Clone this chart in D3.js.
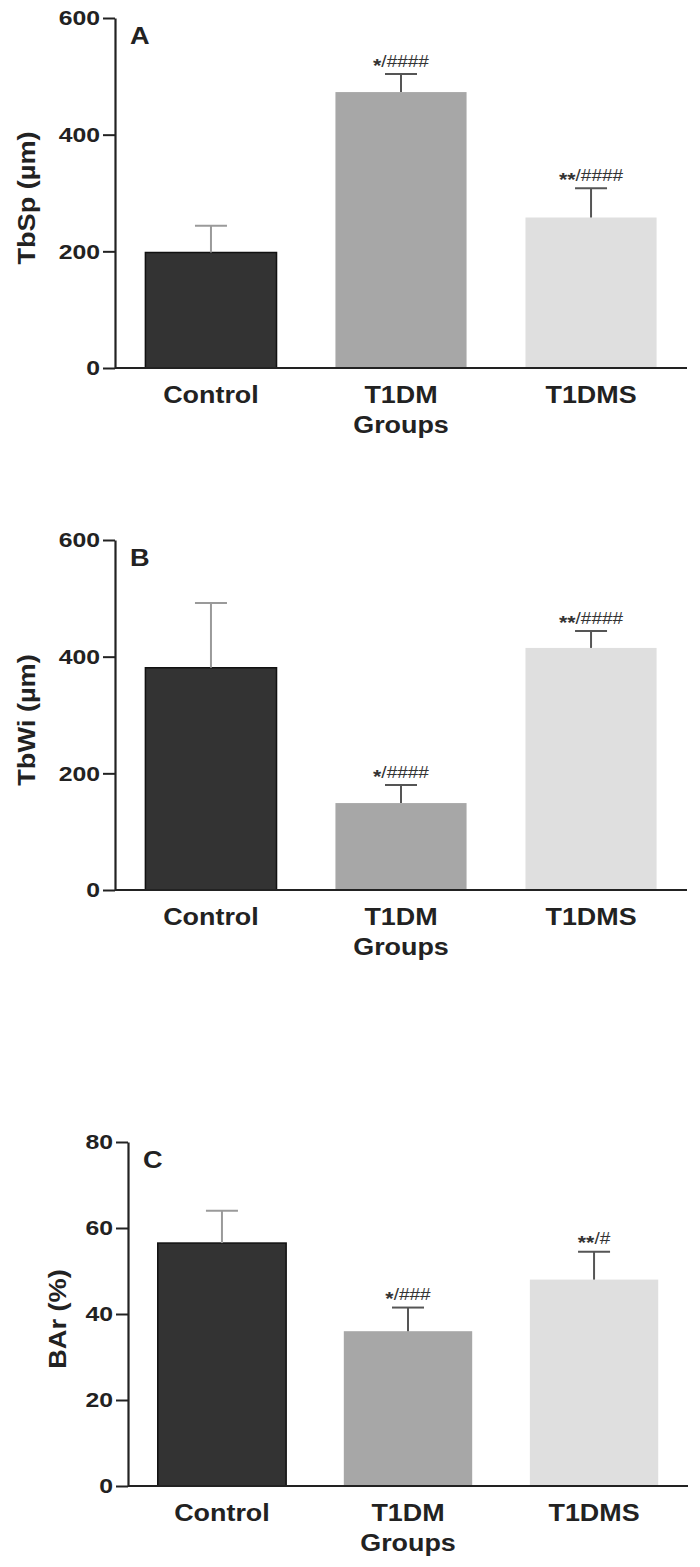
<!DOCTYPE html>
<html>
<head>
<meta charset="utf-8">
<script src="https://cdn.jsdelivr.net/npm/d3@7"></script>
<style>
  body { margin: 0; background: #fff; }
  svg { display: block; font-family: "Liberation Sans", Arial, sans-serif; }
</style>
</head>
<body>
<div id="chart"></div>
<script>
// groups shared by all three panels
const groups = ["Control", "T1DM", "T1DMS"];
const barColors = ["#333333", "#a7a7a7", "#dfdfdf"];
const errColors = ["#9a9a9a", "#555555", "#555555"];

// panel A: trabecular separation
const tbspMeans = [198, 473, 258];
const tbspErrors = [46, 31, 50];
const tbspMarks = ["", "*/####", "**/####"];
const tbspTicks = [0, 200, 400, 600];

// panel B: trabecular width
const tbwiMeans = [381, 149, 415];
const tbwiErrors = [111, 31, 29];
const tbwiMarks = ["", "*/####", "**/####"];
const tbwiTicks = [0, 200, 400, 600];

// panel C: bone area
const barMeans = [56.5, 36, 48];
const barErrors = [7.5, 5.5, 6.5];
const barMarks = ["", "*/###", "**/#"];
const barTicks = [0, 20, 40, 60, 80];

const W = 700, H = 1567;
const svg = d3.select("#chart").append("svg")
  .attr("width", W).attr("height", H);

const panels = [
  { letter: "A", title: "TbSp (\u00b5m)", means: tbspMeans, errors: tbspErrors, marks: tbspMarks,
    ticks: tbspTicks, left: 115, right: 687, top: 18, bottom: 368, titleX: 27 },
  { letter: "B", title: "TbWi (\u00b5m)", means: tbwiMeans, errors: tbwiErrors, marks: tbwiMarks,
    ticks: tbwiTicks, left: 115, right: 687, top: 540, bottom: 890, titleX: 27 },
  { letter: "C", title: "BAr (%)", means: barMeans, errors: barErrors, marks: barMarks,
    ticks: barTicks, left: 128, right: 688, top: 1142, bottom: 1486, titleX: 58 }
];

const SX = 1.18; // the figure's lettering is wider than Arial

panels.forEach(p => drawPanel(p));

function drawPanel(p) {
  const g = svg.append("g");
  const x = d3.scaleBand()
    .domain(groups)
    .range([p.left, p.right])
    .paddingInner(0.31)
    .paddingOuter(0.16);
  const y = d3.scaleLinear()
    .domain([0, d3.max(p.ticks)])
    .range([p.bottom, p.top]);

  const rows = groups.map((name, i) => ({
    name, mean: p.means[i], err: p.errors[i], mark: p.marks[i], i
  }));

  // bars
  g.selectAll("rect.bar")
    .data(rows)
    .join("rect")
      .attr("class", "bar")
      .attr("x", d => x(d.name))
      .attr("y", d => y(d.mean))
      .attr("width", x.bandwidth())
      .attr("height", d => y(0) - y(d.mean))
      .attr("fill", d => barColors[d.i])
      .attr("stroke", d => d.i === 0 ? "#111" : "none")
      .attr("stroke-width", 1.5);

  // error bars (upper only)
  const cx = d => x(d.name) + x.bandwidth() / 2;
  const eb = g.selectAll("g.err")
    .data(rows)
    .join("g")
      .attr("class", "err")
      .attr("stroke", d => errColors[d.i])
      .attr("stroke-width", 2);
  eb.append("line")
    .attr("x1", cx).attr("x2", cx)
    .attr("y1", d => y(d.mean)).attr("y2", d => y(d.mean + d.err));
  eb.append("line")
    .attr("x1", d => cx(d) - 16).attr("x2", d => cx(d) + 16)
    .attr("y1", d => y(d.mean + d.err)).attr("y2", d => y(d.mean + d.err));

  // significance marks
  const marks = g.selectAll("text.mark")
    .data(rows.filter(d => d.mark))
    .join("text")
      .attr("class", "mark")
      .attr("transform", d => `translate(${cx(d)},${y(d.mean + d.err) - 8}) scale(1.12,1)`)
      .attr("text-anchor", "middle")
      .attr("font-size", 17)
      .attr("fill", "#333");
  marks.each(function (d) {
    const parts = d.mark.split("/");
    const t = d3.select(this);
    t.append("tspan").attr("dy", "0.3em").attr("font-size", 19).attr("font-weight", "bold").text(parts[0]);
    t.append("tspan").attr("dy", "-0.3em").text("/" + parts[1]);
  });

  // y axis
  g.append("g")
    .attr("transform", `translate(${p.left},0)`)
    .call(d3.axisLeft(y).tickValues(p.ticks).tickSize(12).tickPadding(3).tickSizeOuter(0))
    .call(a => a.select(".domain").attr("stroke", "#222").attr("stroke-width", 2.2))
    .call(a => a.selectAll(".tick line").attr("stroke", "#222").attr("stroke-width", 2))
    .call(a => a.selectAll(".tick text")
      .attr("font-family", "Liberation Sans, Arial, sans-serif")
      .attr("font-size", 21)
      .attr("font-weight", "bold")
      .attr("fill", "#222")
      .attr("x", -15 / SX)
      .attr("transform", `scale(${SX},1)`));

  // x axis line
  g.append("g")
    .attr("transform", `translate(0,${p.bottom})`)
    .call(d3.axisBottom(x).tickSize(0).tickSizeOuter(0).tickFormat(""))
    .call(a => a.select(".domain")
      .attr("stroke", "#222").attr("stroke-width", 2.2)
      .attr("d", `M${p.left},0H${p.right}`));

  // category labels
  g.selectAll("text.cat")
    .data(groups)
    .join("text")
      .attr("class", "cat")
      .attr("transform", d => `translate(${x(d) + x.bandwidth() / 2},${p.bottom + 35}) scale(1.12,1)`)
      .attr("text-anchor", "middle")
      .attr("font-size", 24)
      .attr("font-weight", "bold")
      .attr("fill", "#222")
      .text(d => d);

  g.append("text")
    .attr("transform", `translate(${x("T1DM") + x.bandwidth() / 2},${p.bottom + 65}) scale(1.12,1)`)
    .attr("text-anchor", "middle")
    .attr("font-size", 24)
    .attr("font-weight", "bold")
    .attr("fill", "#222")
    .text("Groups");

  // y title
  g.append("text")
    .attr("transform", `translate(${p.titleX + 8},${(p.top + p.bottom) / 2 + 5}) rotate(-90) scale(${SX},1)`)
    .attr("text-anchor", "middle")
    .attr("font-size", 23)
    .attr("font-weight", "bold")
    .attr("fill", "#222")
    .text(p.title);

  // panel letter
  g.append("text")
    .attr("transform", `translate(${p.left + 15},${p.top + 26}) scale(${SX},1)`)
    .attr("font-size", 23)
    .attr("font-weight", "bold")
    .attr("fill", "#222")
    .text(p.letter);
}
</script>
</body>
</html>
